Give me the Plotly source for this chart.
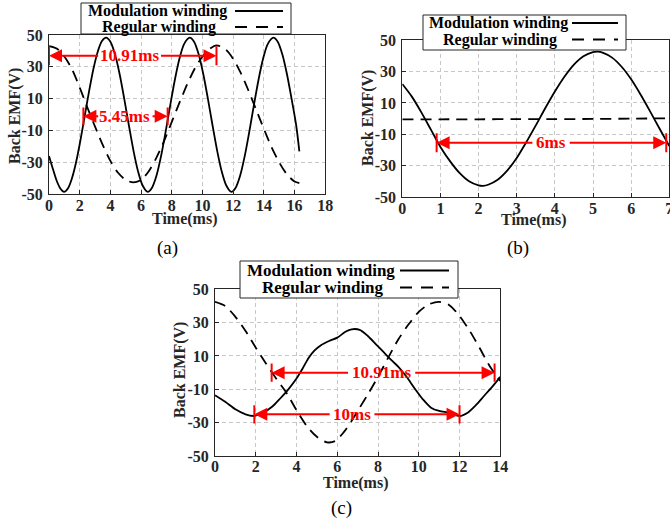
import plotly.graph_objects as go

W, H = 670, 518

# ---------------- data ----------------
# (a)
a_mod_t = [0, 0.25, 0.5, 0.75, 0.98, 1.25, 1.5, 1.75, 2.0, 2.3, 2.6, 2.9, 3.2, 3.45, 3.72,
           4.0, 4.3, 4.6, 4.9, 5.2, 5.5, 5.8, 6.1, 6.43, 6.7, 7.0, 7.3, 7.6, 7.9, 8.2, 8.5,
           8.8, 9.17, 9.45, 9.75, 10.05, 10.35, 10.65, 10.95, 11.25, 11.55, 11.88, 12.15,
           12.45, 12.75, 13.05, 13.35, 13.65, 13.95, 14.25, 14.62, 14.9, 15.2, 15.5, 15.8,
           16.1, 16.31]
a_mod_v = [-26, -34, -41.5, -46.5, -48.5, -46, -39.8, -30.5, -18.6, -2.4, 14.1, 29, 40.3, 46.2, 48.3,
           45.8, 37.9, 25.5, 10.1, -6.5, -22.4, -35.6, -44.5, -48.5, -46, -38.3, -26, -10.6, 6, 21.9, 35.2,
           44.3, 48.3, 45.8, 37.9, 25.5, 10.1, -6.5, -22.4, -35.6, -44.5, -48.5, -46,
           -38.3, -26, -10.6, 6, 21.9, 35.2, 44.3, 48.3, 45.8, 37.9, 25.5, 10.1,
           -6.5, -23]
a_reg_t = [0, 0.5, 1.0, 1.5, 2.0, 2.5, 3.0, 3.5, 4.0, 4.5, 5.0, 5.5, 6.0, 6.5, 7.0, 7.5, 8.0,
           8.5, 9.0, 9.5, 10.0, 10.5, 10.92, 11.5, 12.0, 12.5, 13.0, 13.5, 14.0, 14.5, 15.0,
           15.5, 16.0, 16.31]
a_reg_v = [43, 41.5, 36.5, 28.5, 17, 4.5, -7.5, -19, -29, -36.5, -41, -42.5, -41, -35.5, -27, -16.5, -4.5,
           7.5, 19, 29, 36.5, 41.5, 43.5, 41, 35, 26, 15, 3, -9, -20.5, -30,
           -37.5, -42, -43]

# (b)
b_mod_t = [0, 0.25, 0.5, 0.75, 1.0, 1.25, 1.5, 1.75, 2.0, 2.12, 2.25, 2.5, 2.75, 3.0, 3.25, 3.5,
           3.75, 4.0, 4.25, 4.5, 4.75, 5.0, 5.12, 5.25, 5.5, 5.75, 6.0, 6.25, 6.5, 6.75, 7.0]
b_mod_v = [22, 14, 4, -7, -18, -27, -34.5, -39.8, -42.4, -42.7, -42, -38.8, -33, -25, -15, -4.3,
           6.8, 17.3, 26.7, 34.4, 39.7, 42.3, 42.6, 42, 38.8, 33, 25, 15.2, 4.5, -6.6, -17.5]
b_reg_t = [0, 1, 2, 3, 4, 5, 6, 7]
b_reg_v = [-0.5, -0.4, -0.4, -0.3, -0.3, -0.2, 0.0, 0.2]

# (c)
c_mod_t = [0, 0.5, 1.0, 1.5, 1.9, 2.3, 2.8, 3.2, 3.6, 4.0, 4.3, 4.6, 4.9, 5.2, 5.6, 6.0, 6.4,
           6.7, 7.1, 7.5, 7.9, 8.3, 8.7, 9.0, 9.4, 9.8, 10.2, 10.6, 11.0, 11.5, 12.0, 12.4,
           12.8, 13.2, 13.6, 14.0]
c_mod_v = [-13.5, -17.5, -22, -25, -26, -24.5, -20.5, -15.5, -10, -3.5, 2.5, 9, 13.5, 16.5, 19, 21, 24.5,
           26, 25.7, 22, 17, 12, 7, 3.5, -2.5, -9.5, -16, -21, -23, -24, -26, -24,
           -19.5, -14, -8.5, -2.5]
c_reg_t = [0, 0.5, 1.0, 1.5, 2.0, 2.5, 3.0, 3.5, 4.0, 4.5, 5.0, 5.5, 5.9, 6.3, 6.7, 7.1, 7.5,
           8.0, 8.5, 9.0, 9.5, 10.0, 10.5, 11.0, 11.5, 12.0, 12.5, 13.0, 13.5, 14.0]
c_reg_v = [42.5, 40, 33.5, 25, 15, 5.5, -3.5, -12, -22.5, -32, -38.5, -41.8, -41, -36, -29, -21, -13,
           -2.5, 9, 20, 29, 36.5, 41, 42.5, 40.5, 34, 25, 14.5, 3.5, -5]

y_ticks = [-50, -30, -10, 10, 30, 50]
y_ticklabels = ["-50", "-30", "-10", "10", "30", "50"]
a_xticks = [0, 2, 4, 6, 8, 10, 12, 14, 16, 18]
b_xticks = [0, 1, 2, 3, 4, 5, 6, 7]
c_xticks = [0, 2, 4, 6, 8, 10, 12, 14]

series_names = ["Modulation winding", "Regular winding"]
captions = ["(a)", "(b)", "(c)"]
y_title = "Back EMF(V)"
x_title = "Time(ms)"

# ---------------- figure ----------------
FONT = "Liberation Serif"
AX = "#262626"


def px(x):
    return x / W


def py(y):
    return 1 - y / H


def bold(vals):
    return ["<b>%s</b>" % v for v in vals]


fig = go.Figure()

panels = [
    ("x", "y", a_mod_t, a_mod_v, a_reg_t, a_reg_v),
    ("x2", "y2", b_mod_t, b_mod_v, b_reg_t, b_reg_v),
    ("x3", "y3", c_mod_t, c_mod_v, c_reg_t, c_reg_v),
]
for xa, ya, mt, mv, rt, rv in panels:
    fig.add_trace(go.Scatter(x=mt, y=mv, xaxis=xa, yaxis=ya, mode="lines", name=series_names[0],
                             line=dict(color="black", width=1.8, shape="spline", smoothing=0.8)))
    fig.add_trace(go.Scatter(x=rt, y=rv, xaxis=xa, yaxis=ya, mode="lines", name=series_names[1],
                             line=dict(color="black", width=1.8, dash="11px,7px", shape="spline",
                                       smoothing=0.8)))

common = dict(showline=True, linecolor=AX, linewidth=1, mirror=True,
              showgrid=True, gridcolor="#c8c8c8", gridwidth=1, griddash="4px,3px",
              zeroline=False, ticks="inside", ticklen=4, tickcolor=AX, automargin=False,
              tickfont=dict(family=FONT, size=16, color=AX))

ycommon = dict(common, range=[-50, 50], tickvals=y_ticks, ticktext=bold(y_ticklabels),
               ticklabelstandoff=2)
xcommon = dict(common, ticklabelstandoff=-4, ticklabeloverflow="allow")

fig.update_layout(
    width=W, height=H, margin=dict(l=0, r=0, t=0, b=0),
    paper_bgcolor="white", plot_bgcolor="white", showlegend=False,
    xaxis=dict(xcommon, domain=[px(49), px(325.3)], anchor="y", range=[0, 18], tickvals=a_xticks,
               ticktext=bold(a_xticks)),
    yaxis=dict(ycommon, domain=[py(194.3), py(35)], anchor="x"),
    xaxis2=dict(xcommon, domain=[px(402.3), px(669.3)], anchor="y2", range=[0, 7], tickvals=b_xticks,
                ticktext=bold(b_xticks)),
    yaxis2=dict(ycommon, domain=[py(197.3), py(40)], anchor="x2"),
    xaxis3=dict(xcommon, domain=[px(215), px(500.3)], anchor="y3", range=[0, 14], tickvals=c_xticks,
                ticktext=bold(c_xticks)),
    yaxis3=dict(ycommon, domain=[py(456), py(289.3)], anchor="x3"),
)

ann = []
shapes = []

# axis titles and captions
for (tx, ty), (yx, yy), (cx, cy), cap in [
    ((184, 219), (15, 116), (167, 248), captions[0]),
    ((533, 219.5), (368, 118), (518, 248), captions[1]),
    ((355, 482.5), (180, 370), (341, 508), captions[2]),
]:
    ann.append(dict(x=px(tx), y=py(ty), xref="paper", yref="paper", text="<b>%s</b>" % x_title,
                    showarrow=False, xanchor="center", yanchor="middle",
                    font=dict(family=FONT, size=16, color=AX)))
    ann.append(dict(x=px(yx), y=py(yy), xref="paper", yref="paper", text="<b>%s</b>" % y_title,
                    showarrow=False, xanchor="center", yanchor="middle", textangle=-90,
                    font=dict(family=FONT, size=16, color=AX)))
    ann.append(dict(x=px(cx), y=py(cy), xref="paper", yref="paper", text=cap,
                    showarrow=False, xanchor="center", yanchor="middle",
                    font=dict(family=FONT, size=19, color="black")))

# legends (drawn as boxes with text on the left and line sample on the right)
legends = [
    ((81, 291, 3, 34), (86, 11), (100, 27), (235, 283), 16),
    ((423, 626, 15, 50), (427, 23), (441, 39.5), (572, 618), 16),
    ((240, 458, 261, 298), (245, 270.5), (260, 287.5), (400, 449), 17),
]
for (bx0, bx1, by0, by1), (t1x, t1y), (t2x, t2y), (lx0, lx1), fs in legends:
    shapes.append(dict(type="rect", xref="paper", yref="paper", x0=px(bx0), x1=px(bx1),
                       y0=py(by1), y1=py(by0), fillcolor="white",
                       line=dict(color=AX, width=1), layer="above"))
    ann.append(dict(x=px(t1x), y=py(t1y), xref="paper", yref="paper",
                    text="<b>%s</b>" % series_names[0], showarrow=False, xanchor="left",
                    yanchor="middle", font=dict(family=FONT, size=fs, color="black")))
    ann.append(dict(x=px(t2x), y=py(t2y), xref="paper", yref="paper",
                    text="<b>%s</b>" % series_names[1], showarrow=False, xanchor="left",
                    yanchor="middle", font=dict(family=FONT, size=fs, color="black")))
    shapes.append(dict(type="line", xref="paper", yref="paper", x0=px(lx0), x1=px(lx1),
                       y0=py(t1y), y1=py(t1y), line=dict(color="black", width=1.8), layer="above"))
    shapes.append(dict(type="line", xref="paper", yref="paper", x0=px(lx0), x1=px(lx1),
                       y0=py(t2y), y1=py(t2y), line=dict(color="black", width=1.8, dash="12px,9px"),
                       layer="above"))

# red period markers
markers = [
    ("x", "y", 37, 0.0, 10.91, "10.91ms", 5.25, 3.3, 7.2, 6),
    ("x", "y", -1, 2.24, 7.73, "5.45ms", 4.95, 3.3, 6.65, 5.5),
    ("x2", "y2", -15.3, 0.9, 6.92, "6ms", 3.9, 3.45, 4.35, 6),
    ("x3", "y3", 0, 2.78, 13.72, "10.91ms", 8.18, 6.6, 9.75, 5.5),
    ("x3", "y3", -25, 1.93, 12.0, "10ms", 6.7, 5.7, 7.75, 5.5),
]
for xr, yr, yv, xl, xrgt, label, xc, tl, trr, hb in markers:
    for bx in (xl, xrgt):
        shapes.append(dict(type="line", xref=xr, yref=yr, x0=bx, x1=bx, y0=yv - hb, y1=yv + hb,
                           line=dict(color="red", width=2), layer="above"))
    for head, tail in ((xl, tl), (xrgt, trr)):
        ann.append(dict(x=head, y=yv, ax=tail, ay=yv, xref=xr, yref=yr, axref=xr, ayref=yr,
                        text="", showarrow=True, arrowhead=2, arrowsize=1.3, arrowwidth=2,
                        arrowcolor="red", standoff=0, startstandoff=0))
    ann.append(dict(x=xc, y=yv, xref=xr, yref=yr, text="<b>%s</b>" % label, showarrow=False,
                    xanchor="center", yanchor="middle",
                    font=dict(family=FONT, size=17, color="red")))

fig.update_layout(annotations=ann, shapes=shapes)
fig.write_html("out.html", config={"displayModeBar": False},
               post_script="document.body.style.margin='0';document.body.style.padding='0';"
                           "document.documentElement.style.overflow='hidden';")
